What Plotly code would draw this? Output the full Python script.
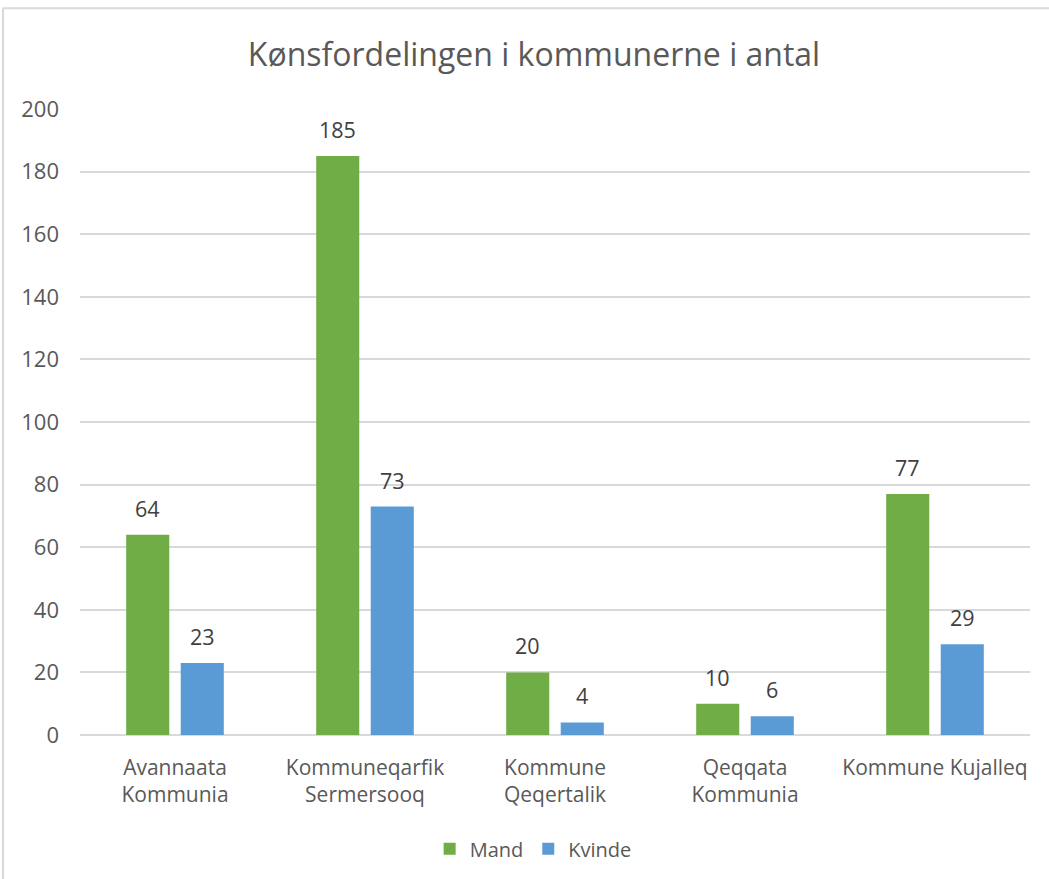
import plotly.graph_objects as go

categories = ["Avannaata<br>Kommunia", "Kommuneqarfik<br>Sermersooq", "Kommune<br>Qeqertalik",
              "Qeqqata<br>Kommunia", "Kommune Kujalleq"]
mand = [64, 185, 20, 10, 77]
kvinde = [23, 73, 4, 6, 29]
series_names = ["Mand", "Kvinde"]
title_text = "Kønsfordelingen i kommunerne i antal"

GREEN = "#70AD47"
BLUE = "#5B9BD5"
FONT = "Open Sans, Lato, sans-serif"

fig = go.Figure()
fig.add_trace(go.Bar(x=categories, y=mand, name=series_names[0], marker=dict(color=GREEN, line=dict(width=0))))
fig.add_trace(go.Bar(x=categories, y=kvinde, name=series_names[1], marker=dict(color=BLUE, line=dict(width=0))))

annotations = []
for vals, shift in ((mand, -27.25), (kvinde, 27.25)):
    for c, v in zip(categories, vals):
        annotations.append(dict(x=c, y=v, xref="x", yref="y", text=str(v), showarrow=False,
                                xshift=shift, yanchor="bottom", yshift=10,
                                font=dict(family=FONT, size=21.5, color="#404040")))

shapes = [
    dict(type="line", xref="paper", yref="paper", x0=-0.081, x1=-0.081, y0=-0.3, y1=1.161,
         line=dict(color="#D9D9D9", width=2)),
    dict(type="line", xref="paper", yref="paper", x0=-0.081, x1=1.1, y0=1.161, y1=1.161,
         line=dict(color="#D9D9D9", width=2)),
]

fig.update_layout(
    width=1049, height=879,
    margin=dict(l=80, r=19, t=109, b=143),
    paper_bgcolor="white", plot_bgcolor="white",
    barmode="group", bargap=0.426, bargroupgap=0.21,
    title=dict(text=title_text, x=534 / 1049, xref="container", xanchor="center",
               y=1 - 55 / 879, yref="container", yanchor="middle",
               font=dict(family=FONT, size=32, color="#595959")),
    font=dict(family=FONT, size=20, color="#595959"),
    legend=dict(orientation="h", x=0.477, xanchor="center", y=-0.18, yanchor="middle",
                font=dict(family=FONT, size=20, color="#595959"), itemwidth=30),
    annotations=annotations,
    shapes=shapes,
)
fig.update_yaxes(range=[0, 200], dtick=20, showgrid=True, gridcolor="#D9D9D9", gridwidth=1.5,
                 zeroline=True, zerolinecolor="#D9D9D9", zerolinewidth=2, showline=False,
                 ticks="", ticklabelstandoff=20, tickfont=dict(family=FONT, size=22, color="#595959"))
fig.update_xaxes(showline=False, ticks="", tickfont=dict(family=FONT, size=21, color="#595959"),
                 ticklabelstandoff=18)

fig.write_html("out.html", config={"displayModeBar": False},
               post_script="document.body.style.margin='0';")
